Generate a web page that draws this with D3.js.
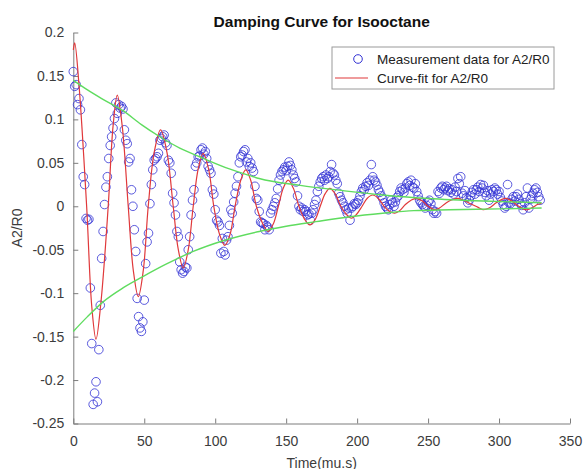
<!DOCTYPE html>
<html><head><meta charset="utf-8">
<script src="https://cdn.jsdelivr.net/npm/d3@7"></script>
<style>
body{margin:0;background:#fff}
svg{display:block}
text{font-family:Arial,"Liberation Sans",Helvetica,sans-serif}
</style>
</head><body>
<svg id="chart" width="584" height="469"></svg>
<script>
// ---- Data ----
const measTime = [
0,1,2,3,4,5,6,7,8,9,10,11,12,13,14,15,16,17,18,19,20,21,22,23,24,25,26,27,28,29,
30,31,32,33,34,35,36,37,38,39,40,41,42,43,44,45,46,47,48,49,50,51,52,53,54,55,56,57,58,59,
60,61,62,63,64,65,66,67,68,69,70,71,72,73,74,75,76,77,78,79,80,81,82,83,84,85,86,87,88,89,
90,91,92,93,94,95,96,97,98,99,100,101,102,103,104,105,106,107,108,109,110,111,112,113,114,115,116,117,118,119,
120,121,122,123,124,125,126,127,128,129,130,131,132,133,134,135,136,137,138,139,140,141,142,143,144,145,146,147,148,149,
150,151,152,153,154,155,156,157,158,159,160,161,162,163,164,165,166,167,168,169,170,171,172,173,174,175,176,177,178,179,
180,181,182,183,184,185,186,187,188,189,190,191,192,193,194,195,196,197,198,199,200,201,202,203,204,205,206,207,208,209,
210,211,212,213,214,215,216,217,218,219,220,221,222,223,224,225,226,227,228,229,230,231,232,233,234,235,236,237,238,239,
240,241,242,243,244,245,246,247,248,249,250,251,252,253,254,255,256,257,258,259,260,261,262,263,264,265,266,267,268,269,
270,271,272,273,274,275,276,277,278,279,280,281,282,283,284,285,286,287,288,289,290,291,292,293,294,295,296,297,298,299,
300,301,302,303,304,305,306,307,308,309,310,311,312,313,314,315,316,317,318,319,320,321,322,323,324,325,326,327,328,329];
const measValue = [
0.155,0.138,0.140,0.117,0.124,0.111,0.071,0.034,0.025,-0.014,
-0.016,-0.015,-0.094,-0.158,-0.228,-0.215,-0.202,-0.225,-0.165,-0.114,
-0.060,-0.029,0.002,0.022,0.034,0.055,0.070,0.080,0.090,0.101,
0.119,0.107,0.117,0.113,0.115,0.112,0.088,0.076,0.072,0.051,
0.055,0.019,0.000,-0.027,-0.052,-0.106,-0.127,-0.140,-0.144,-0.133,
-0.108,-0.066,-0.041,-0.031,0.003,0.025,0.042,0.053,0.055,0.057,
0.061,0.076,0.078,0.080,0.082,0.073,0.070,0.053,0.050,0.038,
0.015,0.004,-0.010,-0.029,-0.035,-0.064,-0.073,-0.077,-0.075,-0.070,
-0.071,-0.050,-0.035,-0.010,0.007,0.019,0.046,0.050,0.057,0.058,
0.065,0.067,0.060,0.063,0.055,0.046,0.042,0.038,0.019,0.014,
-0.004,-0.016,-0.018,-0.022,-0.054,-0.037,-0.052,-0.056,-0.039,-0.035,
-0.022,-0.004,-0.008,0.005,0.015,0.023,0.034,0.050,0.057,0.059,
0.063,0.065,0.051,0.055,0.046,0.050,0.044,0.040,0.023,0.009,
0.007,-0.006,-0.018,-0.019,-0.020,-0.027,-0.022,-0.024,-0.027,-0.008,
-0.004,0.000,0.004,0.009,0.020,0.030,0.036,0.040,0.042,0.045,
0.041,0.046,0.051,0.047,0.042,0.036,0.032,0.028,0.012,0.000,
-0.004,-0.002,-0.006,-0.004,-0.006,-0.010,-0.009,-0.016,-0.008,-0.004,
0.002,0.007,0.017,0.023,0.028,0.032,0.034,0.030,0.036,0.032,
0.034,0.040,0.048,0.038,0.036,0.030,0.026,0.015,0.011,0.007,
0.004,0.000,-0.004,-0.008,-0.002,-0.016,-0.002,0.000,0.003,0.002,
0.004,0.007,0.012,0.017,0.021,0.019,0.023,0.027,0.024,0.030,
0.048,0.034,0.030,0.028,0.024,0.019,0.016,0.012,0.009,0.004,
0.000,-0.002,-0.004,0.002,0.007,0.004,0.000,0.005,0.010,0.012,
0.017,0.021,0.019,0.016,0.021,0.026,0.028,0.024,0.030,0.022,
0.021,0.026,0.017,0.012,0.007,0.004,0.002,0.000,-0.002,0.001,
0.005,0.007,0.003,-0.004,-0.008,-0.006,-0.008,0.017,0.015,0.021,
0.023,0.019,0.021,0.023,0.018,0.020,0.016,0.019,0.014,0.022,
0.017,0.032,0.026,0.034,0.015,0.012,0.018,0.010,0.004,0.007,
0.012,0.016,0.019,0.014,0.019,0.022,0.017,0.025,0.021,0.024,
0.016,0.012,0.018,0.007,0.014,0.019,0.017,0.021,0.019,0.014,
0.017,0.010,0.006,0.002,-0.002,0.000,0.025,0.004,0.003,0.008,
0.011,0.006,0.011,0.014,0.008,0.003,0.001,-0.004,0.004,0.011,
0.021,-0.002,0.008,0.012,0.015,0.019,0.021,0.016,0.011,0.007];

const fitTime = [0,1,4,9.4,13,16,19.5,24.6,28,31,34.5,38.7,42.3,45.8,49.3,52.8,57,61.5,66,70.4,
74,77.5,81,84.5,88,91.5,95.3,99,103,106.8,110.5,114,118,121.5,125,129,133.5,137.3,141,144.5,
148,151.4,155,159,163,166.7,170.5,174,177.5,180.8,184.5,188.5,192.5,196,199.5,203.5,207,211,215,219,
223,226.5,230,234,238,241.8,246,250,254.7,258,262,266,271,276,281,285,289,293,298,302,
305,309,313,317,320,324,327,330];
const fitValue = [0.180,0.188,0.140,0,-0.115,-0.153,-0.110,0,0.092,0.128,0.092,0,-0.074,-0.104,-0.074,0,0.062,0.088,0.062,0,
-0.050,-0.071,-0.050,0,0.043,0.061,0.043,0,-0.032,-0.045,-0.032,0,0.030,0.042,0.030,0,-0.020,-0.029,-0.020,0,
0.021,0.030,0.021,0,-0.015,-0.0215,-0.015,0,0.0145,0.0207,0.0145,0,-0.0095,-0.0138,-0.0095,0,0.009,0.013,0.009,0,
-0.006,-0.008,-0.005,0.002,0.007,0.0092,0.006,0.000,-0.004,-0.002,0.003,0.007,0.009,0.006,0.002,-0.001,-0.004,-0.002,0.004,0.008,
0.009,0.006,0.001,-0.003,-0.004,-0.001,0.002,0.0035];

const envUpperTime  = [0,10,20,35,48,61,75,89,110,125,131,160,190,218,250,289,330];
const envUpperValue = [0.145,0.134,0.124,0.110,0.094,0.080,0.067,0.057,0.043,0.035,0.032,0.024,0.018,0.013,0.009,0.006,0.004];
const envLowerTime  = [0,10,21,35,49,65,84.5,105,131,150,171,195,218,240,265,300,330];
const envLowerValue = [-0.144,-0.127,-0.110,-0.094,-0.081,-0.067,-0.052,-0.040,-0.029,-0.023,-0.0177,-0.012,-0.008,-0.005,-0.004,-0.003,-0.002];

const xTicks = [0,50,100,150,200,250,300,350];
const yTicks = [0.2,0.15,0.1,0.05,0,-0.05,-0.1,-0.15,-0.2,-0.25];
const yTickLabels = ["0.2","0.15","0.1","0.05","0","-0.05","-0.1","-0.15","-0.2","-0.25"];
const legendLabels = ["Measurement data for A2/R0","Curve-fit for A2/R0"];

// ---- Drawing ----
const svg = d3.select("#chart");
const x = d3.scaleLinear().domain([0,350]).range([73.3,570]);
const y = d3.scaleLinear().domain([-0.25,0.2]).range([423.5,32.5]);

const axisColor = "#7d7d7d", labelColor = "#3c3c3c";

// title
svg.append("text").attr("x",321.7).attr("y",26.5).attr("text-anchor","middle")
  .style("font-size","15.5px").style("font-weight","bold").attr("fill","#111")
  .text("Damping Curve for Isooctane");

// axes
const gx = svg.append("g").attr("transform",`translate(0,${y(-0.25)})`)
  .call(d3.axisBottom(x).tickValues(xTicks).tickFormat(d3.format("d")).tickSizeInner(-5).tickSizeOuter(0).tickPadding(13));
const gy = svg.append("g").attr("transform",`translate(${x(0)},0)`)
  .call(d3.axisLeft(y).tickValues(yTicks).tickFormat((d,i)=>yTickLabels[i]).tickSizeInner(-5).tickSizeOuter(0).tickPadding(9));
[gx,gy].forEach(g=>{
  g.selectAll("path,line").attr("stroke",axisColor).attr("stroke-width",1);
  g.selectAll("text").attr("fill",labelColor).style("font-size","14px").style("font-family","Arial, 'Liberation Sans', sans-serif");
});

svg.append("text").attr("x",321.7).attr("y",467.5).attr("text-anchor","middle")
  .style("font-size","14px").attr("fill",labelColor).text("Time(mu.s)");
svg.append("text").attr("transform","translate(22,228) rotate(-90)").attr("text-anchor","middle")
  .style("font-size","14px").attr("fill",labelColor).text("A2/R0");

// measurement circles
const pts = measTime.map((t,i)=>({t, v: measValue[i]}));
svg.append("g").selectAll("circle").data(pts).join("circle")
  .attr("cx",d=>x(d.t)).attr("cy",d=>y(d.v)).attr("r",4.3)
  .attr("fill","none").attr("stroke","#3232d4").attr("stroke-width",1).attr("stroke-opacity",0.8);

// fit line
const line = d3.line().x(d=>x(d[0])).y(d=>y(d[1])).curve(d3.curveCatmullRom.alpha(0.5));
svg.append("path").datum(fitTime.map((t,i)=>[t,fitValue[i]]))
  .attr("d",line).attr("fill","none").attr("stroke","#e0393b").attr("stroke-width",1.2);

// envelopes
const envLine = d3.line().x(d=>x(d[0])).y(d=>y(d[1])).curve(d3.curveMonotoneX);
svg.append("path").datum(envUpperTime.map((t,i)=>[t,envUpperValue[i]]))
  .attr("d",envLine).attr("fill","none").attr("stroke","#5fdc5f").attr("stroke-width",1.4);
svg.append("path").datum(envLowerTime.map((t,i)=>[t,envLowerValue[i]]))
  .attr("d",envLine).attr("fill","none").attr("stroke","#5fdc5f").attr("stroke-width",1.4);

// legend
const lg = svg.append("g");
lg.append("rect").attr("x",332).attr("y",47).attr("width",222).attr("height",42)
  .attr("fill","#fff").attr("stroke","#9a9a9a").attr("stroke-width",1);
lg.append("circle").attr("cx",358).attr("cy",59).attr("r",4.3)
  .attr("fill","none").attr("stroke","#3232d4").attr("stroke-width",1);
lg.append("line").attr("x1",335).attr("x2",368).attr("y1",78).attr("y2",78)
  .attr("stroke","#e0393b").attr("stroke-width",1.2);
lg.selectAll("text.leg").data(legendLabels).join("text").attr("class","leg")
  .attr("x",377).attr("y",(d,i)=>63.5+i*19).style("font-size","13.5px").attr("fill","#222").text(d=>d);
</script>
</body></html>
